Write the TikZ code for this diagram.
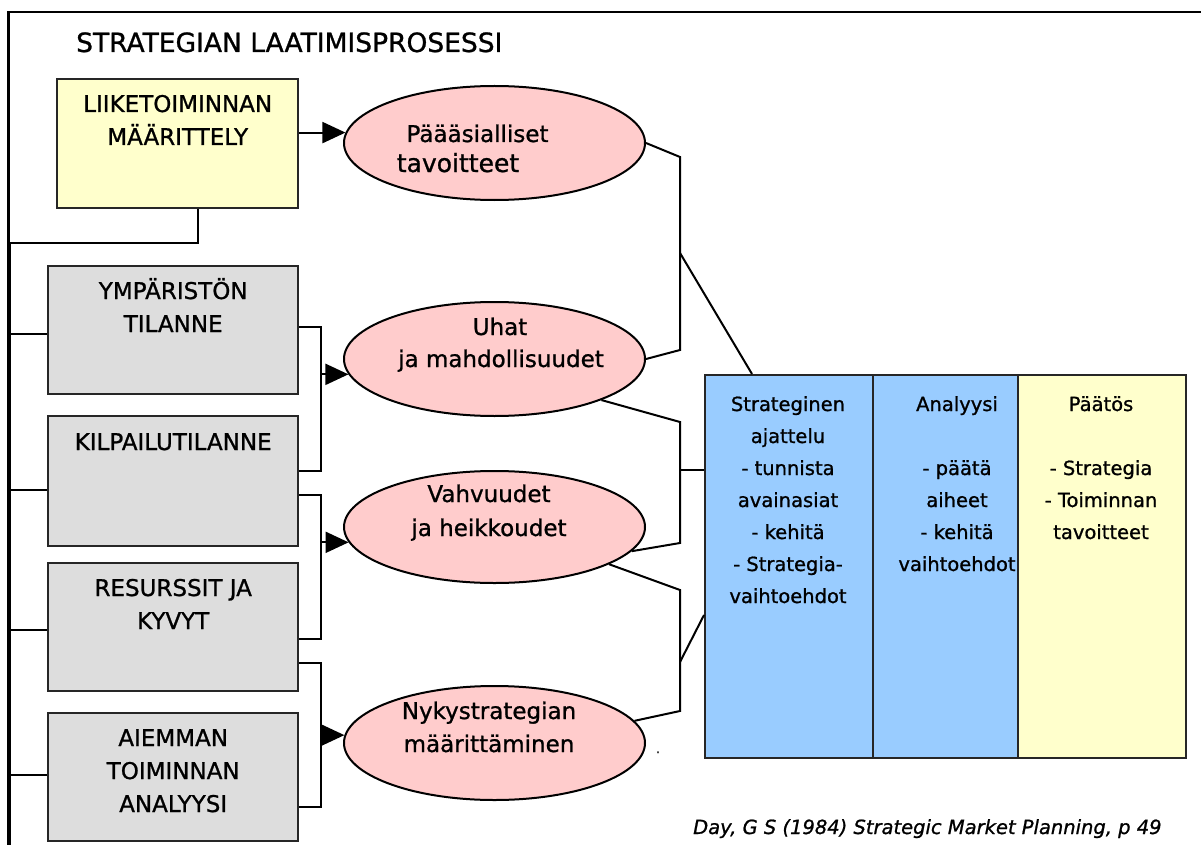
\documentclass[tikz,border=0pt]{standalone}
\usepackage{fontspec}
\setmainfont{DejaVu Sans}[FakeBold=1]
\usetikzlibrary{arrows.meta,shapes.geometric,calc}
\definecolor{boxyellow}{HTML}{FFFFCC}
\definecolor{boxgray}{HTML}{DDDDDD}
\definecolor{ellpink}{HTML}{FFCCCC}
\definecolor{panelblue}{HTML}{99CCFF}
\begin{document}
\begin{tikzpicture}[x=1pt,y=-1pt,
  line/.style={draw=black, line width=2pt},
  arr/.style={line, -{Triangle[length=23pt,width=21pt]}},
  rectbox/.style={draw=black!85, line width=2.4pt, inner sep=0pt, anchor=north west},
  graybox/.style={rectbox, fill=boxgray, minimum width=250pt},
  ell/.style={ellipse, draw=black, line width=2pt, fill=ellpink, minimum width=301pt, inner sep=0pt},
  col/.style={rectbox, line width=2.2pt, minimum height=383pt},
  boxtxt/.style={anchor=base, inner sep=0pt, font=\fontsize{23}{28}\selectfont},
  elltxt/.style={anchor=base, inner sep=0pt, font=\fontsize{23}{28}\selectfont},
  pantxt/.style={anchor=base, inner sep=0pt, font=\fontsize{19.5}{24}\selectfont},
]
\useasboundingbox (0,0) rectangle (1201,845);
\clip (0,0) rectangle (1201,845);
\fill[white] (0,0) rectangle (1201,845);

% frame
\coordinate (fra) at (1215,12);
\coordinate (frb) at (8.5,12);
\coordinate (frc) at (8.5,860);
\draw[line width=2.6pt] (fra) -- (frb) -- (frc);

% title
\node[anchor=base west, inner sep=0pt, font=\fontsize{26.5}{30}\selectfont] (title) at (76,52) {STRATEGIAN LAATIMISPROSESSI};

% left boxes
\node[rectbox, fill=boxyellow, minimum width=241pt, minimum height=129pt] (y0) at (56,78) {};
\node[boxtxt] (y0a) at ($(y0.north)+(0,34)$) {LIIKETOIMINNAN};
\node[boxtxt] (y0b) at ($(y0.north)+(0,67)$) {MÄÄRITTELY};

\node[graybox, minimum height=128pt] (b1) at (47,265) {};
\node[boxtxt] (b1a) at ($(b1.north)+(0,34)$) {YMPÄRISTÖN};
\node[boxtxt] (b1b) at ($(b1.north)+(0,67)$) {TILANNE};

\node[graybox, minimum height=130pt] (b2) at (47,415) {};
\node[boxtxt] (b2a) at ($(b2.north)+(0,35)$) {KILPAILUTILANNE};

\node[graybox, minimum height=128pt] (b3) at (47,562) {};
\node[boxtxt] (b3a) at ($(b3.north)+(0,34)$) {RESURSSIT JA};
\node[boxtxt] (b3b) at ($(b3.north)+(0,67)$) {KYVYT};

\node[graybox, minimum height=128pt] (b4) at (47,712) {};
\node[boxtxt] (b4a) at ($(b4.north)+(0,34)$) {AIEMMAN};
\node[boxtxt] (b4b) at ($(b4.north)+(0,67)$) {TOIMINNAN};
\node[boxtxt] (b4c) at ($(b4.north)+(0,100)$) {ANALYYSI};

% ellipses
\node[ell, minimum height=114pt] (e1) at (494.5,143) {};
\node[elltxt] (e1a) at (477.5,142) {Päääsialliset};
\node[elltxt, font=\fontsize{25}{30}\selectfont] (e1b) at (458,172) {tavoitteet};

\node[ell, minimum height=114pt] (e2) at (494.5,359) {};
\node[elltxt] (e2a) at (500,335) {Uhat};
\node[elltxt] (e2b) at (501,367) {ja mahdollisuudet};

\node[ell, minimum height=112pt] (e3) at (494.5,527) {};
\node[elltxt] (e3a) at (489,502) {Vahvuudet};
\node[elltxt] (e3b) at (489,536) {ja heikkoudet};

\node[ell, minimum height=114pt] (e4) at (494.5,743) {};
\node[elltxt] (e4a) at (489,719) {Nykystrategian};
\node[elltxt] (e4b) at (489,752) {määrittäminen};

\node[inner sep=0pt, font=\fontsize{12}{14}\selectfont, anchor=base] (dot) at (658,753) {.};

% panel
\node[col, fill=panelblue, minimum width=168pt] (p1) at (704,374) {};
\node[col, fill=panelblue, minimum width=145pt] (p2) at (872,374) {};
\node[col, fill=boxyellow, minimum width=168pt] (p3) at (1017,374) {};

\node[pantxt] (p1a) at (788,411) {Strateginen};
\node[pantxt] (p1b) at (788,443) {ajattelu};
\node[pantxt] (p1c) at (788,475) {- tunnista};
\node[pantxt] (p1d) at (788,507) {avainasiat};
\node[pantxt] (p1e) at (788,539) {- kehitä};
\node[pantxt] (p1f) at (788,571) {- Strategia-};
\node[pantxt] (p1g) at (788,603) {vaihtoehdot};

\node[pantxt] (p2a) at (957,411) {Analyysi};
\node[pantxt] (p2c) at (957,475) {- päätä};
\node[pantxt] (p2d) at (957,507) {aiheet};
\node[pantxt] (p2e) at (957,539) {- kehitä};
\node[pantxt] (p2f) at (957,571) {vaihtoehdot};

\node[pantxt] (p3a) at (1101,411) {Päätös};
\node[pantxt] (p3c) at (1101,475) {- Strategia};
\node[pantxt] (p3d) at (1101,507) {- Toiminnan};
\node[pantxt] (p3e) at (1101,539) {tavoitteet};

% footnote
\node[anchor=base west, inner sep=0pt, font=\fontsize{19.5}{24}\selectfont\itshape] (src) at (693,834) {Day, G S (1984) Strategic Market Planning, p 49};

% left bus
\coordinate (ybus) at ($(y0.south)+(20.5,0)$);
\coordinate (bustop) at (9,243);
\coordinate (busbot) at (10,860);
\draw[line] (ybus) |- (bustop);
\draw[line] (bustop -| busbot) -- (busbot);
\coordinate (l1) at ($(b1.west)+(0,4)$);
\coordinate (l2) at ($(b2.west)+(0,9)$);
\coordinate (l3) at ($(b3.west)+(0,3)$);
\coordinate (l4) at ($(b4.west)+(0,-2)$);
\draw[line] (l1) -- (l1 -| busbot);
\draw[line] (l2) -- (l2 -| busbot);
\draw[line] (l3) -- (l3 -| busbot);
\draw[line] (l4) -- (l4 -| busbot);

% brackets and arrows
\coordinate (brx) at (321,0);
\coordinate (s1) at ($(b1.east)+(0,-3)$);
\coordinate (s2) at ($(b2.east)+(0,-10)$);
\coordinate (s3) at ($(b2.east)+(0,14)$);
\coordinate (s4) at ($(b3.east)+(0,12)$);
\coordinate (s5) at ($(b3.east)+(0,36)$);
\coordinate (s6) at ($(b4.east)+(0,30)$);
\draw[arr] (e1.176 -| y0.east) -- (e1.176);
\draw[line] (s1) -- (s1 -| brx) -- (s2 -| brx) -- (s2);
\draw[arr] (e2.186 -| brx) -- (e2.186);
\draw[line] (s3) -- (s3 -| brx) -- (s4 -| brx) -- (s4);
\draw[arr] (e3.186 -| brx) -- (e3.186);
\draw[line] (s5) -- (s5 -| brx) -- (s6 -| brx) -- (s6);
\draw[arr] (e4.177 -| brx) -- (e4.177);

% right connectors
\coordinate (r1a) at (680,157);
\coordinate (r1b) at (680,350);
\coordinate (r1c) at (680,253);
\coordinate (r2a) at (680,422);
\coordinate (r2b) at (680,543);
\coordinate (r2c) at (680,470);
\coordinate (r3a) at (680,590);
\coordinate (r3b) at (680,711);
\coordinate (r3c) at (680,662);
\draw[line] (e1.east) -- (r1a) -- (r1b) -- (e2.east);
\draw[line] (r1c) -- ($(p1.north west)+(48,0)$);
\draw[line] (e2.-21) -- (r2a) -- (r2b) -- (e3.-10);
\draw[line] (r2c) -- (r2c -| p1.west);
\draw[line] (e3.-18) -- (r3a) -- (r3b) -- (e4.9);
\draw[line] (r3c) -- ($(p1.north west)+(0,241)$);
\end{tikzpicture}
\end{document}
